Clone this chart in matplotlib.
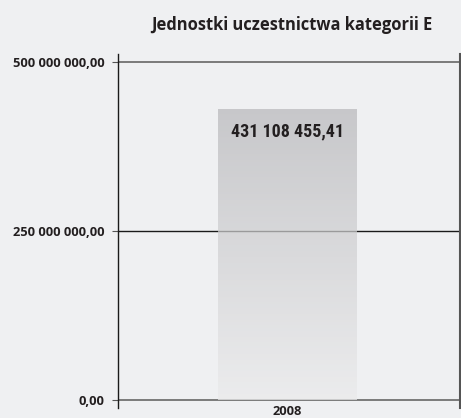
import numpy as np
import matplotlib
matplotlib.use('Agg')
import matplotlib.pyplot as plt

# data
years = ['2008']
values = [431108455.41]
yticks = [0, 250000000, 500000000]
ytick_labels = ['0,00', '250 000 000,00', '500 000 000,00']
title = 'Jednostki uczestnictwa kategorii E'

bg = '#eff0f2'
plt.rcParams['font.family'] = ['Open Sans', 'DejaVu Sans']

fig = plt.figure(figsize=(4.61, 4.18), dpi=100, facecolor=bg)
ax = fig.add_axes([0.256, 0.0239, 0.742, 0.847], facecolor=bg)

# horizontal lines
ax.axhline(0, color='#7a7a7a', lw=1.4, zorder=1)
ax.axhline(250000000, color='#1a1a1a', lw=1.0, zorder=1)
ax.axhline(500000000, color='#7a7a7a', lw=1.4, zorder=1)

# bar with vertical gradient (dark at top)
xpos = [0.4956]
bars = ax.bar(xpos, values, width=0.406, color='none', edgecolor='none', zorder=2)
cmap = matplotlib.colors.LinearSegmentedColormap.from_list('g', ['#b8b8bb', '#ebebec'])
for b, v in zip(bars, values):
    x0, y0 = b.get_x(), b.get_y()
    w, h = b.get_width(), b.get_height()
    grad = np.linspace(0, 1, 256).reshape(-1, 1)
    im = ax.imshow(grad, extent=[x0, x0 + w, y0, y0 + h], aspect='auto', cmap=cmap,
                   origin='upper', alpha=0.72, zorder=2)
    im.set_clip_path(b)
    label = f'{v:,.2f}'.replace(',', ' ').replace('.', ',')
    ax.text(x0 + w / 2, y0 + h - 34e6, label,
            ha='center', va='center', fontsize=13, fontweight='bold',
            family=['Roboto Condensed', 'Open Sans', 'DejaVu Sans'],
            color='#231f20', zorder=3)
ax.set_xlim(0, 1)
ax.set_ylim(-11.8e6, 511.8e6)

ax.set_yticks(yticks)
ax.set_yticklabels(ytick_labels, fontsize=9.3, fontweight='bold', color='#231f20')
ax.tick_params(axis='y', length=4, width=0.8, color='#555555', pad=5.5)
ax.set_xticks(xpos)
ax.set_xticklabels(years, fontsize=9.3, fontweight='bold', color='#231f20')
ax.tick_params(axis='x', length=0, pad=-2)

for s in ['top', 'bottom']:
    ax.spines[s].set_visible(False)
ax.spines['left'].set_color('#1a1a1a')
ax.spines['left'].set_linewidth(1.0)
ax.spines['right'].set_color('#555555')
ax.spines['right'].set_linewidth(1.5)

fig.text(0.632, 0.94, title, ha='center', va='center', fontsize=11.9,
         fontweight='bold', color='#231f20')

fig.savefig('out.png', dpi=100, facecolor=bg)
